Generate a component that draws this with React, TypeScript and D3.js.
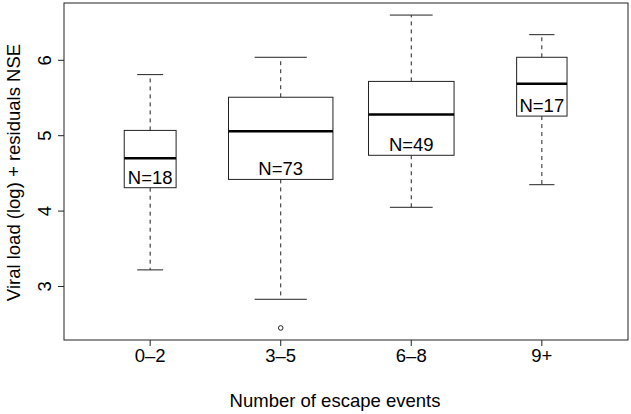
import React, { useEffect, useRef } from 'react';
import * as d3 from 'd3';

// Box summaries (log viral load + NSE residuals)
const categories = ['0–2', '3–5', '6–8', '9+'];
const counts = [18, 73, 49, 17];
const lowerWhisker = [3.22, 2.83, 4.05, 4.35];
const q1 = [4.31, 4.42, 4.74, 5.26];
const median = [4.7, 5.06, 5.28, 5.69];
const q3 = [5.07, 5.51, 5.72, 6.04];
const upperWhisker = [5.81, 6.04, 6.6, 6.34];
const outliers = [[], [2.45], [], []];
const yTicks = [3, 4, 5, 6];

const W = 631;
const H = 414;
const FONT = '"Liberation Sans", Arial, Helvetica, sans-serif';
const FS = '18.5px';

const App = () => {
  const ref = useRef<SVGSVGElement>(null);

  useEffect(() => {
    document.body.style.margin = '0';
    const svg = d3.select(ref.current);
    svg.selectAll('*').remove();

    const left = 64, right = 628, top = 3, bottom = 340;

    // R-style boxplot axes: positions 1..n, 4% padding
    const x = d3.scaleLinear().domain([0.34, 4.66]).range([left, right]);
    const y = d3.scaleLinear().domain([2.29, 6.76]).range([bottom, top]);

    const maxN = d3.max(counts) as number;
    const boxes = categories.map((c, i) => ({
      label: c,
      pos: i + 1,
      n: counts[i],
      lo: lowerWhisker[i],
      q1: q1[i],
      med: median[i],
      q3: q3[i],
      hi: upperWhisker[i],
      out: outliers[i],
      w: 0.8 * Math.sqrt(counts[i] / maxN),
    }));

    const g = svg.append('g');

    const box = g.selectAll('g.box')
      .data(boxes)
      .join('g')
      .attr('class', 'box');

    // whiskers (dashed)
    box.append('line')
      .attr('x1', d => x(d.pos)).attr('x2', d => x(d.pos))
      .attr('y1', d => y(d.q3)).attr('y2', d => y(d.hi))
      .attr('stroke', '#222').attr('stroke-dasharray', '4,4');
    box.append('line')
      .attr('x1', d => x(d.pos)).attr('x2', d => x(d.pos))
      .attr('y1', d => y(d.q1)).attr('y2', d => y(d.lo))
      .attr('stroke', '#222').attr('stroke-dasharray', '4,4');

    // staples
    [d => d.hi, d => d.lo].forEach(acc => {
      box.append('line')
        .attr('x1', d => x(d.pos - d.w / 4)).attr('x2', d => x(d.pos + d.w / 4))
        .attr('y1', d => y(acc(d))).attr('y2', d => y(acc(d)))
        .attr('stroke', '#222');
    });

    // box
    box.append('rect')
      .attr('x', d => x(d.pos - d.w / 2))
      .attr('width', d => x(d.pos + d.w / 2) - x(d.pos - d.w / 2))
      .attr('y', d => y(d.q3))
      .attr('height', d => y(d.q1) - y(d.q3))
      .attr('fill', 'white')
      .attr('stroke', '#222');

    // median
    box.append('line')
      .attr('x1', d => x(d.pos - d.w / 2)).attr('x2', d => x(d.pos + d.w / 2))
      .attr('y1', d => y(d.med)).attr('y2', d => y(d.med))
      .attr('stroke', '#000').attr('stroke-width', 2.5);

    // outliers
    box.selectAll('circle')
      .data(d => d.out.map(v => ({ pos: d.pos, v })))
      .join('circle')
      .attr('cx', d => x(d.pos)).attr('cy', d => y(d.v))
      .attr('r', 2.3)
      .attr('fill', 'none').attr('stroke', '#222');

    // N labels sitting just above Q1
    box.append('text')
      .attr('x', d => x(d.pos))
      .attr('y', d => y(d.q1) - 4)
      .attr('text-anchor', 'middle')
      .style('font', `${FS} ${FONT}`)
      .text(d => `N=${d.n}`);

    // frame
    g.append('rect')
      .attr('x', left).attr('y', top)
      .attr('width', right - left).attr('height', bottom - top)
      .attr('fill', 'none').attr('stroke', '#222');

    // x axis ticks + labels
    const xa = g.append('g');
    xa.selectAll('line')
      .data(boxes)
      .join('line')
      .attr('x1', d => x(d.pos)).attr('x2', d => x(d.pos))
      .attr('y1', bottom).attr('y2', bottom + 6)
      .attr('stroke', '#222');
    xa.selectAll('text')
      .data(boxes)
      .join('text')
      .attr('x', d => x(d.pos)).attr('y', 362)
      .attr('text-anchor', 'middle')
      .style('font', `${FS} ${FONT}`)
      .text(d => d.label);

    // y axis ticks + rotated labels
    const ya = g.append('g');
    ya.selectAll('line')
      .data(yTicks)
      .join('line')
      .attr('x1', left - 6).attr('x2', left)
      .attr('y1', d => y(d)).attr('y2', d => y(d))
      .attr('stroke', '#222');
    ya.selectAll('text')
      .data(yTicks)
      .join('text')
      .attr('transform', d => `translate(51,${y(d)}) rotate(-90)`)
      .attr('text-anchor', 'middle')
      .style('font', `${FS} ${FONT}`)
      .text(d => d);

    // axis titles
    g.append('text')
      .attr('x', 335).attr('y', 407)
      .attr('text-anchor', 'middle')
      .style('font', `${FS} ${FONT}`)
      .text('Number of escape events');
    g.append('text')
      .attr('transform', `translate(20,172.5) rotate(-90)`)
      .attr('text-anchor', 'middle')
      .style('font', `${FS} ${FONT}`)
      .text('Viral load (log) + residuals NSE');
  }, []);

  return (
    <svg ref={ref} width={W} height={H} style={{ display: 'block', background: 'white' }} />
  );
};

export default App;
